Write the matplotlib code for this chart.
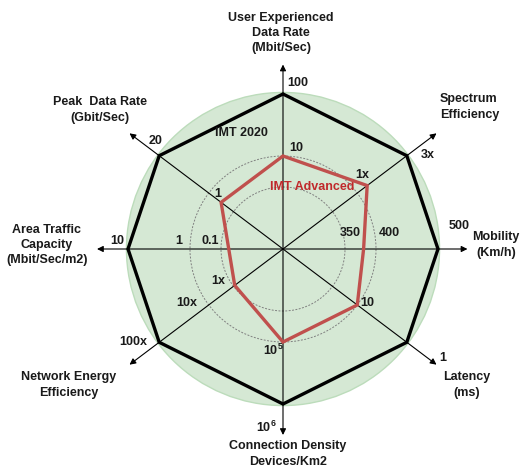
import numpy as np
import matplotlib.pyplot as plt
from matplotlib.patches import Circle

plt.rcParams['font.family'] = ['Liberation Sans', 'DejaVu Sans']
plt.rcParams['mathtext.fontset'] = 'custom'
plt.rcParams['mathtext.rm'] = 'Liberation Sans:bold'
plt.rcParams['mathtext.bf'] = 'Liberation Sans:bold'

# axes of the radar, clockwise from the top
axis_names = ["User Experienced\nData Rate\n(Mbit/Sec)", "Spectrum\nEfficiency",
              "Mobility\n(Km/h)", "Latency\n(ms)", "Connection Density\nDevices/Km2",
              "Network Energy\nEfficiency", "Area Traffic\nCapacity\n(Mbit/Sec/m2)",
              "Peak  Data Rate\n(Gbit/Sec)"]
axis_angles = [90, 37, 0, -37, -90, -143, 180, 143]  # degrees

# normalised radius of each series on each axis (outer ring = 1)
imt2020 = [1.0, 1.0, 1.0, 1.0, 1.0, 1.0, 1.0, 1.0]
imt_adv = [0.60, 0.68, 0.52, 0.60, 0.60, 0.39, 0.35, 0.50]
rings = [0.40, 0.60]

# tick values written on the chart
imt2020_ticks = ["100", "3x", "500", "1", r"$\mathbf{10^{6}}$", "100x", "10", "20"]
imt_adv_ticks = ["10", "1x", "350", "10", r"$\mathbf{10^{5}}$", "1x", "0.1", "1"]
extra_ticks = ["400", "1", "10x"]

# layout (pixels)
cx, cy, R = 283, 249, 155
arrow_len = [1.19, 1.24, 1.19, 1.24, 1.2, 1.24, 1.2, 1.24]
name_pos = [(281, 33, 'center'), (440, 107, 'left'), (496, 245, 'center'),
            (467, 385, 'center'), (288, 454, 'center'), (69, 385, 'center'),
            (47, 245, 'center'), (100, 110, 'center')]
t2020_pos = [(298, 83), (428, 155), (459, 226), (443, 358), (266, 427),
             (133, 342), (117, 241), (156, 141)]
tadv_pos = [(296, 148), (362, 175), (350, 233), (367, 303), (273, 350),
            (218, 281), (210, 241), (218, 194)]
extra_pos = [(389, 233), (179, 241), (187, 303)]


def xy(r, ang):
    a = np.radians(ang)
    return cx + R * np.asarray(r) * np.cos(a), cy - R * np.asarray(r) * np.sin(a)


fig = plt.figure(figsize=(5.2, 4.69), dpi=100)
ax = fig.add_axes([0, 0, 1, 1])
ax.set_xlim(0, 520)
ax.set_ylim(469, 0)
ax.set_aspect('equal')
ax.axis('off')

ax.add_patch(Circle((cx, cy), R * 1.01, facecolor='#d5e8d4', edgecolor='#bcdcbb',
                    lw=1, zorder=0))
for r in rings:
    ax.add_patch(Circle((cx, cy), R * r, fill=False, edgecolor='#808080', lw=0.7,
                        linestyle=(0, (2, 1.5)), zorder=1))

for ang, ln in zip(axis_angles, arrow_len):
    ax.annotate('', xy=xy(ln, ang), xytext=(cx, cy),
                arrowprops=dict(arrowstyle='-|>', lw=0.8, color='black',
                                mutation_scale=9, shrinkA=0, shrinkB=0), zorder=2)

# polygons
x20, y20 = xy(imt2020, axis_angles)
ax.fill(np.r_[x20, x20[0]], np.r_[y20, y20[0]], facecolor='none', edgecolor='black',
        lw=2.4, joinstyle='miter', zorder=3)
xa, ya = xy(imt_adv, axis_angles)
ax.fill(np.r_[xa, xa[0]], np.r_[ya, ya[0]], facecolor='none', edgecolor='#c0504d',
        lw=2.4, joinstyle='miter', zorder=4)

fs = 9
tc = '#1a1a1a'
for name, (px, py, ha) in zip(axis_names, name_pos):
    ax.text(px, py, name, ha=ha, va='center', fontsize=fs, fontweight='bold',
            linespacing=1.35, color=tc, multialignment='center' if ha == 'center' else 'left')
for t, (px, py) in zip(imt2020_ticks + imt_adv_ticks + extra_ticks,
                       t2020_pos + tadv_pos + extra_pos):
    ax.text(px, py, t, ha='center', va='center', fontsize=fs, fontweight='bold', color=tc)

ax.text(241, 133, "IMT 2020", ha='center', va='center', fontsize=fs, fontweight='bold',
        color=tc)
ax.text(312, 187, "IMT Advanced", ha='center', va='center', fontsize=fs, fontweight='bold',
        color='#c0292b')

fig.savefig('out.png', dpi=100)
